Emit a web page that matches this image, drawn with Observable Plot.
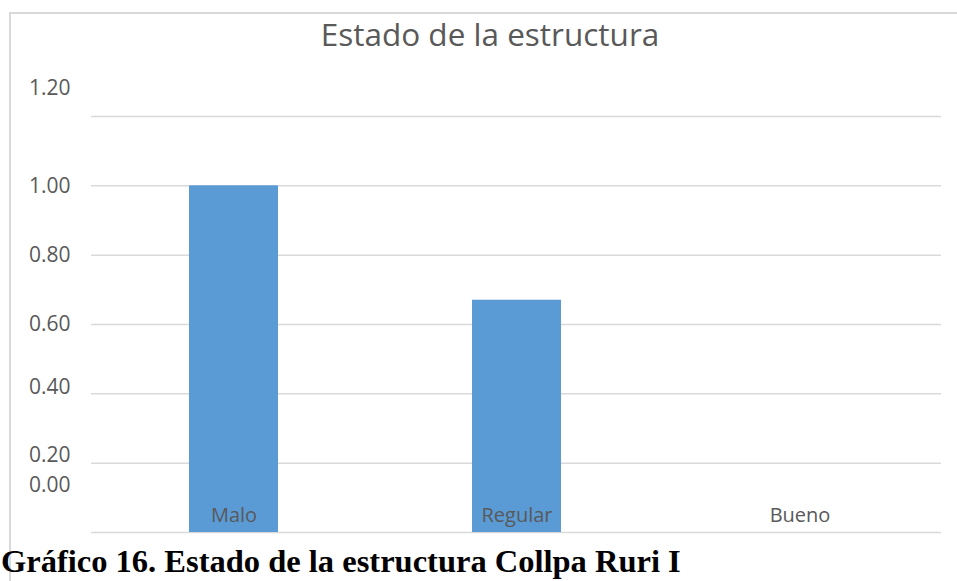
<!DOCTYPE html>
<html>
<head>
<meta charset="utf-8">
<script src="https://cdn.jsdelivr.net/npm/d3@7"></script>
<script src="https://cdn.jsdelivr.net/npm/@observablehq/plot@0.6"></script>
<style>
  html, body { margin: 0; padding: 0; background: #fff; }
  #wrap { position: relative; width: 957px; height: 581px; overflow: hidden; }
  #frame { position: absolute; left: 9px; top: 12px; width: 960px; height: 600px;
           border-left: 2px solid #d9d9d9; border-top: 2px solid #d9d9d9; }
  #chart { position: absolute; left: 0; top: 0; }
  #title { position: absolute; left: 0; width: 980px; top: 12px; text-align: center;
           font-family: "Open Sans", sans-serif; font-size: 31.5px; color: #595959; }
  #caption { position: absolute; left: 1px; top: 543px; white-space: nowrap;
             font-family: "Liberation Serif", "Times New Roman", serif; font-weight: bold;
             font-size: 32.5px; color: #000; }
</style>
</head>
<body>
<div id="wrap">
  <div id="frame"></div>
  <div id="chart"></div>
  <div id="title">Estado de la estructura</div>
  <div id="caption">Gráfico 16. Estado de la estructura Collpa Ruri I</div>
</div>
<script>
const categories = ["Malo", "Regular", "Bueno"];
const values = [1.0, 0.67, 0];
const tickValues = [0, 0.2, 0.4, 0.6, 0.8, 1.0, 1.2];
const tickLabels = ["0.00", "0.20", "0.40", "0.60", "0.80", "1.00", "1.20"];

// styling: vertical offsets of the value labels as they appear in the original
const labelShift = {0: -47.5, 0.2: -8, 0.4: -7, 0.6: 0, 0.8: 0.5, 1.0: 0.5, 1.2: -28};

const data = categories.map((c, i) => ({category: c, value: values[i]}));
const labelOf = v => tickLabels[tickValues.indexOf(v)];

const chart = Plot.plot({
  width: 957,
  height: 548,
  marginLeft: 91,
  marginRight: 16,
  marginTop: 116,
  marginBottom: 16,
  style: {fontFamily: "'Open Sans', sans-serif", color: "#595959", background: "transparent"},
  x: {domain: categories, paddingInner: 0.686, paddingOuter: 0.343, axis: null},
  y: {domain: [0, 1.2], axis: null},
  marks: [
    Plot.ruleY(tickValues, {stroke: "#d9d9d9", strokeWidth: 1.5}),
    Plot.barY(data, {x: "category", y: "value", fill: "#5b9bd5"}),
    ...tickValues.map(t => Plot.axisY([t], {
      anchor: "left", tickSize: 0, tickPadding: 21, dy: labelShift[t],
      tickFormat: labelOf, fontSize: 21, fill: "#595959", label: null
    })),
    Plot.axisX({anchor: "bottom", tickSize: 0, tickPadding: 0, dy: -25,
      fontSize: 20, fill: "#595959", label: null})
  ]
});
document.getElementById("chart").appendChild(chart);
</script>
</body>
</html>
